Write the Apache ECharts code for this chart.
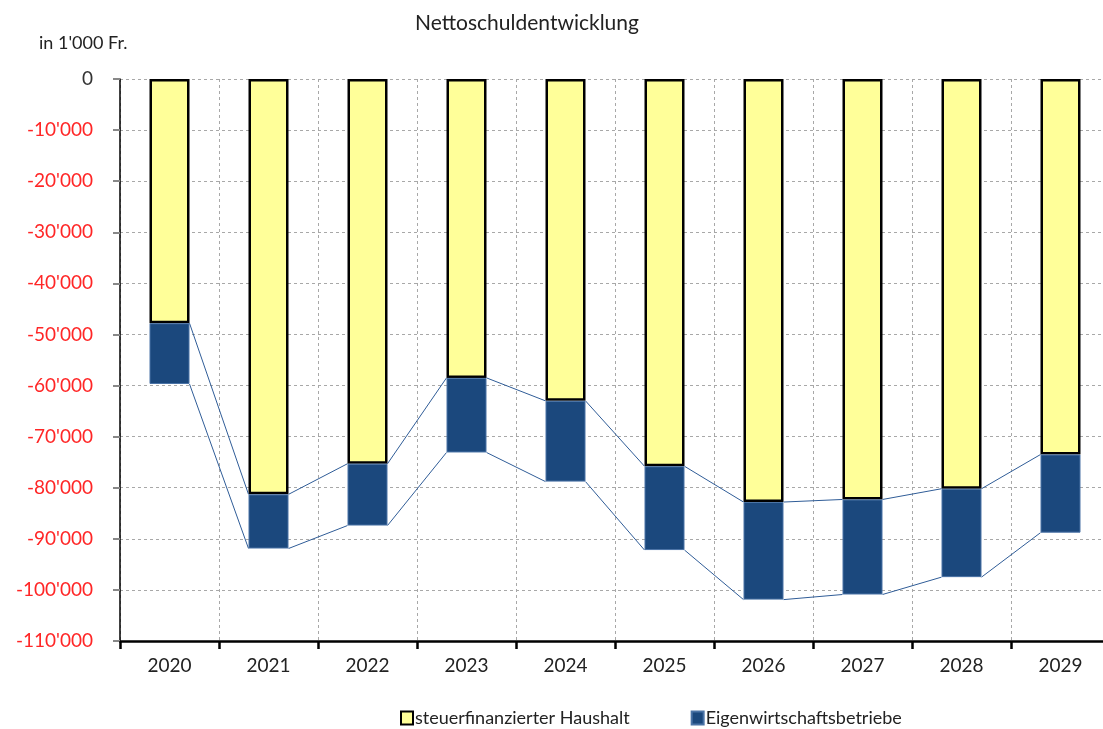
<!DOCTYPE html>
<html>
<head>
<meta charset="utf-8">
<script src="https://cdn.jsdelivr.net/npm/echarts@6/dist/echarts.min.js"></script>
<style>html,body{margin:0;padding:0;background:#fff}#c{width:1103px;height:729px}</style>
</head>
<body>
<div id="c"></div>
<script>
const years = ['2020','2021','2022','2023','2024','2025','2026','2027','2028','2029'];
const haushalt = [-47800,-81300,-75300,-58500,-63000,-75800,-82800,-82300,-80200,-73500];
const betriebe = [-11900,-10600,-12100,-14600,-15800,-16400,-19100,-18600,-17300,-15300];
const seriesNames = ['steuerfinanzierter Haushalt','Eigenwirtschaftsbetriebe'];
const titleText = 'Nettoschuldentwicklung';
const unitText = "in 1'000 Fr.";

const FONT = 'Lato';
const BARW = 40;
const totals = haushalt.map((v,i)=>v+betriebe[i]);
function connectors(arr){const out=[];for(let i=0;i<arr.length-1;i++)out.push([i,arr[i],arr[i+1]]);return out;}
function fmt(v){const s=String(Math.abs(v)).replace(/\B(?=(\d{3})+(?!\d))/g,"'");return v<0?'-'+s:s;}
function renderConn(params, api){
  const i = api.value(0);
  const p1 = api.coord([i, api.value(1)]);
  const p2 = api.coord([i+1, api.value(2)]);
  return {type:'line',shape:{x1:p1[0]+BARW/2,y1:p1[1],x2:p2[0]-BARW/2,y2:p2[1]},
    style:{stroke:'#2f5c97',lineWidth:1}};
}
const chart = echarts.init(document.getElementById('c'),null,{renderer:'canvas'});
chart.setOption({
  animation:false,
  textStyle:{fontFamily:FONT},
  title:[
    {text:titleText,left:522,top:8,textAlign:'center',textStyle:{fontFamily:FONT,fontSize:21,fontWeight:'normal',color:'#222'}},
    {text:unitText,left:34,top:29,textStyle:{fontFamily:FONT,fontSize:18,fontWeight:'normal',color:'#222'}}
  ],
  legend:{data:seriesNames,left:395,top:704,icon:'rect',itemWidth:12,itemHeight:13,itemGap:61,
    textStyle:{fontFamily:FONT,fontSize:18,color:'#222',padding:[0,0,0,-3]}},
  grid:{left:120,width:990,top:79,height:562,containLabel:false,outerBoundsMode:'none'},
  xAxis:{type:'category',data:years,position:'bottom',
    axisLine:{onZero:false,lineStyle:{color:'#000',width:2.5}},
    axisTick:{show:true,length:8,lineStyle:{color:'#000',width:2.5}},
    axisLabel:{fontFamily:FONT,fontSize:19,color:'#222',margin:15},
    splitLine:{show:true,lineStyle:{color:'#a8a8a8',type:[3,3],width:1}}},
  yAxis:{type:'value',min:-110000,max:0,interval:10000,
    axisLine:{show:true,lineStyle:{color:'#000',width:1.5}},
    axisTick:{show:true,length:7,lineStyle:{color:'#888',width:2}},
    axisLabel:{fontFamily:FONT,fontSize:19,margin:27,
      formatter:v=> v===0?'{z|0}':'{n|'+fmt(v)+'}',
      rich:{z:{fontFamily:FONT,fontSize:19,color:'#333'},n:{fontFamily:FONT,fontSize:19,color:'#ff2626'}}},
    splitLine:{show:true,lineStyle:{color:'#a8a8a8',type:[3,3],width:1}}},
  series:[
    {name:seriesNames[0],type:'bar',stack:'a',data:haushalt,barWidth:BARW,
      itemStyle:{color:'#ffff99',borderColor:'#000',borderWidth:2.5}},
    {name:seriesNames[1],type:'bar',stack:'a',data:betriebe,barWidth:BARW,
      itemStyle:{color:'#1b487d',borderColor:'#4a73a6',borderWidth:1}},
    {type:'custom',data:connectors(haushalt),renderItem:renderConn,z:5,silent:true},
    {type:'custom',data:connectors(totals),renderItem:renderConn,z:5,silent:true}
  ]
});
</script>
</body>
</html>
